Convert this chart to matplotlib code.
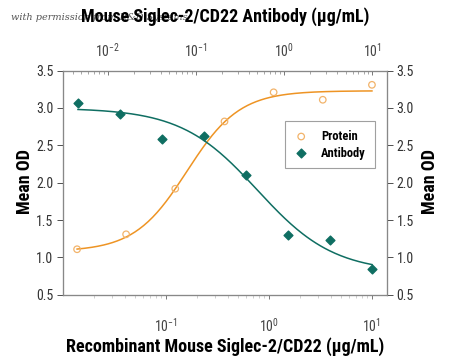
import numpy as np
import matplotlib
matplotlib.use("Agg")
import matplotlib.pyplot as plt
from matplotlib.ticker import LogLocator, FixedLocator, FormatStrFormatter, LogFormatterSciNotation

plt.rcParams['font.family'] = ['Roboto Condensed', 'DejaVu Sans']
plt.rcParams['mathtext.fontset'] = 'custom'
plt.rcParams['mathtext.rm'] = 'Roboto Condensed'
plt.rcParams['mathtext.default'] = 'rm'

# protein (bottom axis), ug/mL
protein_conc = [0.0137, 0.041, 0.123, 0.37, 1.11, 3.33, 10.0]
protein_od = [1.11, 1.31, 1.92, 2.82, 3.21, 3.11, 3.31]
# antibody (top axis), ug/mL
antibody_conc = [0.00457, 0.0137, 0.041, 0.123, 0.37, 1.11, 3.33, 10.0]
antibody_od = [3.07, 2.92, 2.59, 2.63, 2.10, 1.30, 1.24, 0.85]

# 4PL fit parameters: start, end, ec50, hill
protein_fit = (1.08, 3.23, 0.16, 1.7)
antibody_fit = (3.0, 0.8, 0.5, 1.0)

orange = "#ee9424"
teal = "#0f6e62"


def fourpl(x, a, d, c, b):
    return d + (a - d) / (1 + (x / c) ** b)


fig = plt.figure(figsize=(4.5, 3.64), dpi=100)
ax = fig.add_axes([0.14, 0.19, 0.72, 0.616])

xs = np.logspace(np.log10(protein_conc[0]), np.log10(protein_conc[-1]), 200)
ax.plot(xs, fourpl(xs, *protein_fit), color=orange, lw=1.1)
p = ax.scatter(protein_conc, protein_od, s=22, facecolors="none",
               edgecolors="#f2b36a", linewidths=0.9, label="Protein", zorder=3)
ax.set_xscale("log")
ax.set_xlim(0.01, 14)
ax.set_ylim(0.5, 3.5)

ax2 = ax.twiny()
xa = np.logspace(np.log10(antibody_conc[0]), np.log10(antibody_conc[-1]), 200)
ax2.plot(xa, fourpl(xa, *antibody_fit), color=teal, lw=1.1)
q = ax2.scatter(antibody_conc, antibody_od, marker="D", s=20, color=teal,
                label="Antibody", zorder=3)
ax2.set_xscale("log")
ax2.set_xlim(10 ** -2.51, 10 ** 1.17)

ax3 = ax.twinx()
ax3.set_ylim(0.5, 3.5)

yt = [0.5, 1.0, 1.5, 2.0, 2.5, 3.0, 3.5]
for a in (ax, ax3):
    a.yaxis.set_major_locator(FixedLocator(yt))
    a.yaxis.set_major_formatter(FormatStrFormatter("%.1f"))
    a.tick_params(axis="y", direction="out", length=4, width=0.6,
                  colors="#333333", labelsize=10, pad=3)

ax.xaxis.set_major_locator(FixedLocator([0.1, 1, 10]))
ax.xaxis.set_minor_locator(LogLocator(base=10, subs=np.arange(2, 10), numticks=10))
ax.xaxis.set_major_formatter(LogFormatterSciNotation())
ax.tick_params(axis="x", which="major", direction="out", length=3, width=0.5,
               colors="#444444", labelsize=10, pad=13)
ax.tick_params(axis="x", which="minor", direction="out", length=2, width=0.4,
               color="#aaaaaa")
ax2.tick_params(axis="x", which="major", direction="in", length=3, width=0.5,
                colors="#444444", labelsize=10, pad=8)
ax2.tick_params(axis="x", which="minor", direction="in", length=2, width=0.4,
                color="#666666")

for a in (ax, ax2, ax3):
    for s in a.spines.values():
        s.set_color("#888888")
        s.set_linewidth(0.8)

fig.text(0.5, 0.047, "Recombinant Mouse Siglec-2/CD22 (\u03bcg/mL)",
         fontsize=13, fontweight="bold", ha="center", va="center")
fig.text(0.055, 0.5, "Mean OD", fontsize=13, fontweight="bold",
         rotation=90, ha="center", va="center")
fig.text(0.955, 0.5, "Mean OD", fontsize=13, fontweight="bold",
         rotation=90, ha="center", va="center")

fig.text(0.025, 0.953, "with permission from R&D Systems", family="serif",
         style="italic", fontsize=7, color="#555555", va="center", zorder=0)
fig.text(0.5, 0.953, "Mouse Siglec-2/CD22 Antibody (\u03bcg/mL)",
         fontsize=13, fontweight="bold", ha="center", va="center", zorder=5)

leg = ax3.legend([p, q], ["Protein", "Antibody"], loc="upper left",
                 bbox_to_anchor=(0.685, 0.775), fontsize=9, frameon=True,
                 fancybox=False, handletextpad=1.0, borderpad=0.7,
                 handlelength=1.2, labelspacing=0.3, borderaxespad=0)
leg.get_frame().set_edgecolor("#888888")
leg.get_frame().set_linewidth(0.8)
for t in leg.get_texts():
    t.set_fontweight("bold")

fig.savefig("out.png", dpi=100)
